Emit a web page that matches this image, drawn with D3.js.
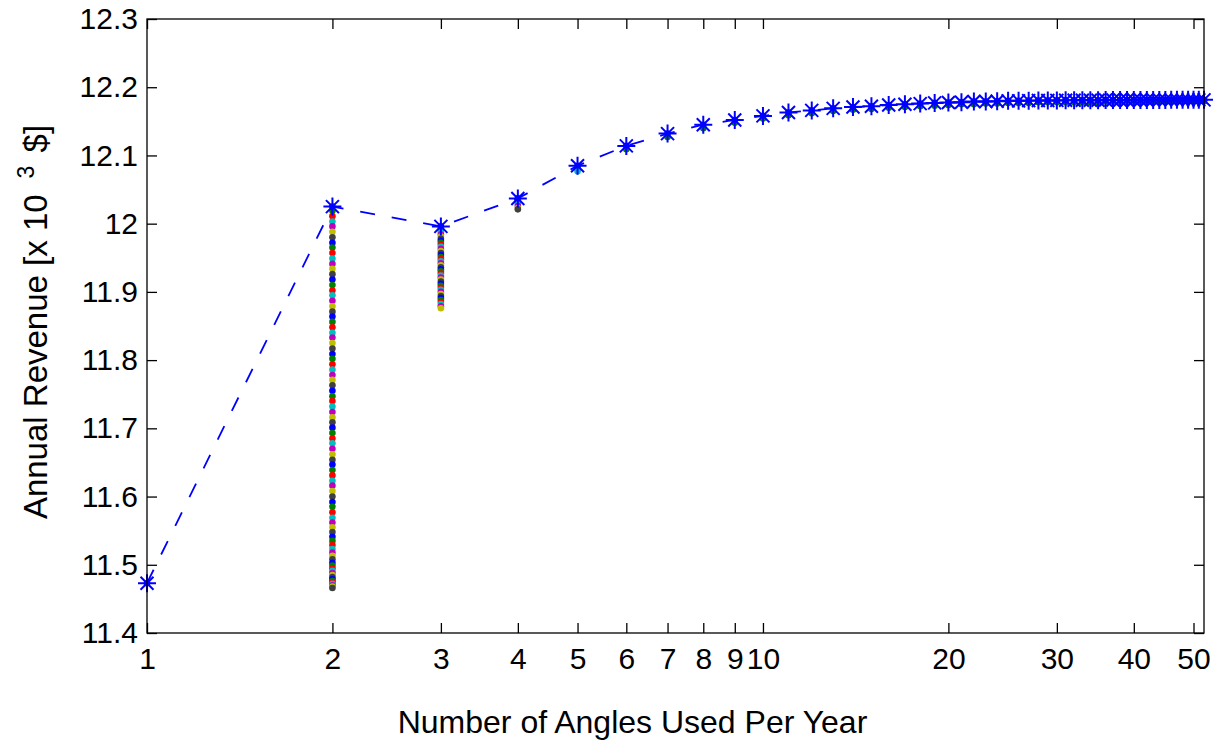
<!DOCTYPE html>
<html>
<head>
<meta charset="utf-8">
<script src="https://cdn.jsdelivr.net/npm/d3@7"></script>
<style>
  body { margin: 0; background: #fff; }
  text { font-family: "Liberation Sans", Arial, Helvetica, sans-serif; fill: #000; }
</style>
</head>
<body>
<svg id="chart" width="1220" height="745"></svg>
<script>
// Number of angles used per year
const angles = [1, 2, 3, 4, 5, 6, 7, 8, 9, 10, 11, 12, 13, 14, 15, 16, 17, 18, 19, 20,
  21, 22, 23, 24, 25, 26, 27, 28, 29, 30, 31, 32, 33, 34, 35, 36, 37, 38, 39, 40,
  41, 42, 43, 44, 45, 46, 47, 48, 49, 50, 51, 52];

// Best annual revenue for each number of angles [x 10^3 $]
const bestRevenue = [11.473, 12.025, 11.996, 12.037, 12.085, 12.114, 12.132, 12.145, 12.152, 12.158,
  12.163, 12.166, 12.169, 12.171, 12.172, 12.174, 12.175, 12.176, 12.177, 12.1775,
  12.178, 12.179, 12.179, 12.1795, 12.180, 12.180, 12.1803, 12.1805, 12.1805, 12.1807,
  12.181, 12.181, 12.181, 12.181, 12.181, 12.1812, 12.1812, 12.1812, 12.1812, 12.1813,
  12.1813, 12.1813, 12.1814, 12.1814, 12.1814, 12.1815, 12.1815, 12.1815, 12.1815, 12.1815,
  12.1815, 12.1815];

// Revenue of every tried angle set, two angles per year
const trials2 = [12.019, 12.011, 12.003, 11.996, 11.988, 11.980, 11.972, 11.965, 11.957, 11.949,
  11.941, 11.934, 11.926, 11.918, 11.910, 11.902, 11.895, 11.887, 11.879, 11.871,
  11.864, 11.856, 11.848, 11.840, 11.833, 11.825, 11.817, 11.809, 11.802, 11.794,
  11.786, 11.778, 11.771, 11.763, 11.755, 11.747, 11.740, 11.732, 11.724, 11.716,
  11.709, 11.701, 11.693, 11.685, 11.678, 11.670, 11.662, 11.654, 11.647, 11.639,
  11.631, 11.623, 11.616, 11.608, 11.600, 11.592, 11.585, 11.577, 11.569, 11.562,
  11.555, 11.548, 11.541, 11.535, 11.529, 11.523, 11.518, 11.513, 11.508, 11.503,
  11.499, 11.495, 11.491, 11.488, 11.485, 11.482, 11.479, 11.476, 11.474, 11.472,
  11.470, 11.468, 11.466];

// Three angles per year
const trials3 = [11.993, 11.990, 11.987, 11.984, 11.981, 11.978, 11.975, 11.972, 11.969, 11.966,
  11.963, 11.960, 11.957, 11.954, 11.951, 11.948, 11.945, 11.942, 11.939, 11.936,
  11.933, 11.930, 11.927, 11.924, 11.921, 11.918, 11.915, 11.912, 11.909, 11.906,
  11.903, 11.900, 11.897, 11.894, 11.891, 11.888, 11.885, 11.882, 11.879, 11.876];

// Four and five angles per year
const trials4 = [12.035, 12.032, 12.029, 12.026, 12.023, 12.021];
const trials5 = [12.083, 12.080, 12.077];

// Lowest tried revenue for six or more angles per year
const lowRevenue = [12.109, 12.127, 12.140, 12.148, 12.154, 12.159, 12.162, 12.165, 12.167, 12.168,
  12.170, 12.171, 12.172, 12.173, 12.174, 12.175, 12.175, 12.176, 12.176, 12.177,
  12.177, 12.177, 12.178, 12.178, 12.178, 12.178, 12.178, 12.178, 12.178, 12.178,
  12.179, 12.179, 12.179, 12.179, 12.179, 12.179, 12.179, 12.179, 12.179, 12.179,
  12.179, 12.179, 12.179, 12.179, 12.179, 12.179, 12.179];

const xTicks = [1, 2, 3, 4, 5, 6, 7, 8, 9, 10, 20, 30, 40, 50];
const yTicks = [11.4, 11.5, 11.6, 11.7, 11.8, 11.9, 12.0, 12.1, 12.2, 12.3];

const colorOrder = ["#0000ff", "#008000", "#ff0000", "#00bfbf", "#bf00bf", "#bfbf00", "#404040"];

const plotLeft = 147, plotRight = 1204, plotTop = 19, plotBottom = 633;

const svg = d3.select("#chart");
svg.append("rect").attr("width", 1220).attr("height", 745).attr("fill", "#fff");

const x = d3.scaleLog().domain([1, 52]).range([plotLeft, plotRight]);
const y = d3.scaleLinear().domain([11.4, 12.3]).range([plotBottom, plotTop]);

// Scatter of all tried sets, coloured in plotting order
const dots = [];
function addColumn(n, values) {
  values.forEach((v, i) => dots.push({ n, v, c: colorOrder[i % colorOrder.length] }));
}
addColumn(1, [bestRevenue[0]]);
addColumn(2, [bestRevenue[1]].concat(trials2));
addColumn(3, [bestRevenue[2]].concat(trials3));
addColumn(4, [bestRevenue[3]].concat(trials4));
addColumn(5, [bestRevenue[4]].concat(trials5));
angles.slice(5).forEach((n, i) => addColumn(n, [bestRevenue[i + 5], lowRevenue[i]]));

svg.append("g").selectAll("circle").data(dots).join("circle")
  .attr("cx", d => x(d.n))
  .attr("cy", d => y(d.v))
  .attr("r", 3.3)
  .attr("fill", d => d.c);

// Dashed line through the best revenues
const pts = angles.map((n, i) => [n, bestRevenue[i]]);
svg.append("path")
  .attr("d", d3.line().x(d => x(d[0])).y(d => y(d[1]))(pts))
  .attr("fill", "none")
  .attr("stroke", "#0000ff")
  .attr("stroke-width", 1.8)
  .attr("stroke-dasharray", "15,17");

// Asterisk markers
const r = 9, rd = 6.5;
const star = `M${-r},0L${r},0M0,${-r}L0,${r}M${-rd},${-rd}L${rd},${rd}M${-rd},${rd}L${rd},${-rd}`;
svg.append("g").selectAll("path").data(pts).join("path")
  .attr("transform", d => `translate(${x(d[0])},${y(d[1])})`)
  .attr("d", star)
  .attr("fill", "none")
  .attr("stroke", "#0000ff")
  .attr("stroke-width", 2);

// Axes
const fmtY = d => String(+d.toFixed(1));
const tickFont = 30;

const gx = svg.append("g").attr("transform", `translate(0,${plotBottom})`)
  .call(d3.axisBottom(x).tickValues(xTicks).tickFormat(d3.format("d"))
    .tickSizeInner(-10).tickSizeOuter(0).tickPadding(15));
const gy = svg.append("g").attr("transform", `translate(${plotLeft},0)`)
  .call(d3.axisLeft(y).tickValues(yTicks).tickFormat(fmtY)
    .tickSizeInner(-10).tickSizeOuter(0).tickPadding(9));
const gt = svg.append("g").attr("transform", `translate(0,${plotTop})`)
  .call(d3.axisTop(x).tickValues(xTicks).tickFormat("").tickSizeInner(-10).tickSizeOuter(0));
const gr = svg.append("g").attr("transform", `translate(${plotRight},0)`)
  .call(d3.axisRight(y).tickValues(yTicks).tickFormat("").tickSizeInner(-10).tickSizeOuter(0));

[gx, gy, gt, gr].forEach(g => {
  g.select(".domain").remove();
  g.selectAll(".tick line").attr("stroke", "#000").attr("stroke-width", 1.3);
  g.selectAll(".tick text")
    .style("font-family", '"Liberation Sans", Arial, sans-serif')
    .style("font-size", tickFont + "px")
    .attr("fill", "#000");
});

svg.append("rect")
  .attr("x", plotLeft).attr("y", plotTop)
  .attr("width", plotRight - plotLeft).attr("height", plotBottom - plotTop)
  .attr("fill", "none").attr("stroke", "#000").attr("stroke-width", 1.3);

// Axis titles
svg.append("text")
  .attr("x", (plotLeft + plotRight) / 2 - 43)
  .attr("y", 733)
  .attr("text-anchor", "middle")
  .style("font-size", "32px")
  .text("Number of Angles Used Per Year");

const yl = svg.append("text")
  .attr("transform", `translate(47,${(plotTop + plotBottom) / 2 - 4}) rotate(-90)`)
  .attr("text-anchor", "middle")
  .style("font-size", "33px");
yl.append("tspan").text("Annual Revenue [x 10");
yl.append("tspan").attr("dx", 16).attr("dy", -13).style("font-size", "23px").text("3");
yl.append("tspan").attr("dx", 4).attr("dy", 13).text(" $]");
</script>
</body>
</html>
